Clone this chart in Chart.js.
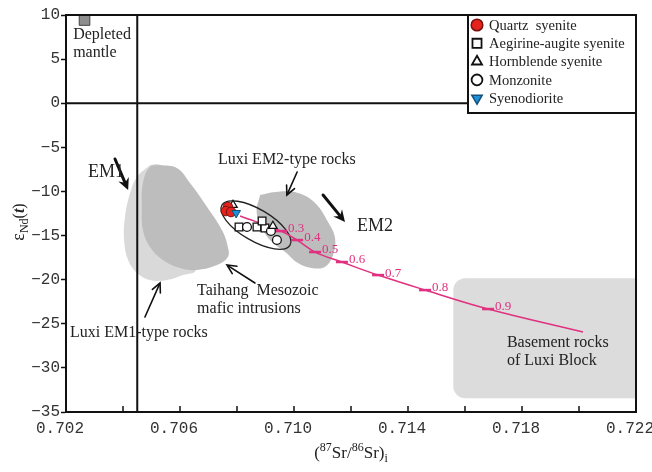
<!DOCTYPE html>
<html lang="en">
<head>
<meta charset="UTF-8">
<script src="https://cdn.jsdelivr.net/npm/chart.js"></script>
<title>Sr-Nd isotope diagram</title>
<style>
  html, body { margin: 0; padding: 0; background: #fff; overflow: hidden; }
  #wrap { width: 652px; height: 472px; position: relative; }
</style>
</head>
<body>
<div id="wrap"><canvas id="srnd"></canvas></div>
<script>
// --- samples: [(87Sr/86Sr)i, eNd(t)] ---
const quartzSyenite   = [[0.70768, -11.76], [0.70761, -12.22], [0.70779, -12.33]];
const aegirineSyenite = [[0.70807, -14.03], [0.70870, -14.03], [0.70898, -14.14], [0.70888, -13.35]];
const hornblendeSyen  = [[0.70786, -11.54], [0.70926, -13.92]];
const monzonite       = [[0.70835, -14.03], [0.70919, -14.48], [0.70940, -15.50]];
const syenodiorite    = [[0.70797, -12.44]];
const depletedMantle  = [[0.70265, 9.43]];

// mixing curve and its fraction marks
const mixCurve  = [[0.70811, -12.79], [0.70954, -14.49], [0.71011, -15.51], [0.71074, -16.87], [0.71168, -18.00],
                   [0.71295, -19.48], [0.71460, -21.18], [0.71681, -23.33], [0.72014, -25.94]];
const mixMarks  = [[0.70954, -14.49], [0.71011, -15.51], [0.71074, -16.87], [0.71168, -18.00],
                   [0.71295, -19.48], [0.71460, -21.18], [0.71681, -23.33]];
const mixLabels = ['0.3', '0.4', '0.5', '0.6', '0.7', '0.8', '0.9'];

// fields (outlines)
const luxiEM1Field = [[0.70495, -7.0], [0.70449, -8.36], [0.70425, -10.18], [0.70407, -12.9], [0.70404, -15.5],
                      [0.70418, -17.77], [0.70449, -19.24], [0.70495, -20.04], [0.70554, -20.04], [0.70611, -19.47],
                      [0.70656, -18.9], [0.70670, -14.37], [0.70600, -9.27], [0.70530, -7.0], [0.70495, -7.0]];
const taihangField = [[0.70530, -7.0], [0.70495, -7.2], [0.70470, -9.04], [0.70466, -11.76], [0.70470, -14.37],
                      [0.70495, -16.3], [0.70540, -17.77], [0.70600, -18.68], [0.70656, -18.9], [0.70730, -18.34],
                      [0.70768, -17.43], [0.70768, -16.3], [0.70747, -14.37], [0.70695, -11.76], [0.70635, -9.04],
                      [0.70589, -7.34], [0.70530, -7.0]];
const luxiEM2Field = [[0.70881, -10.40], [0.70944, -10.03], [0.71014, -10.18], [0.71074, -11.31], [0.71119, -13.43],
                      [0.71144, -15.28], [0.71137, -17.2], [0.71109, -18.53], [0.71062, -18.68], [0.71014, -18.11],
                      [0.70968, -16.83], [0.70922, -15.70], [0.70887, -14.14], [0.70869, -12.30], [0.70881, -10.40]];
const basementBox  = [0.71559, -19.85, 0.722, -33.45];   // x0, yTop, x1, yBottom
const sampleEllipse = [[0.70747, -11.54], [0.70986, -16.08]]; // ends of the long axis

const xTicks = [0.702, 0.706, 0.710, 0.714, 0.718, 0.722];
const em1Line = 0.7045;

const pts = a => a.map(p => ({x: p[0], y: p[1]}));

const SERIF = '"Liberation Serif", "Times New Roman", serif';
const MONO = '"Liberation Mono", monospace';

function arrow(ctx, x1, y1, x2, y2, lw, head, solid) {
    const a = Math.atan2(y2 - y1, x2 - x1);
    ctx.save();
    ctx.strokeStyle = '#111'; ctx.fillStyle = '#111';
    ctx.lineWidth = lw; ctx.lineCap = 'round';
    ctx.beginPath();
    ctx.moveTo(x1, y1);
    ctx.lineTo(x2 - Math.cos(a) * (solid ? head * 0.6 : 1), y2 - Math.sin(a) * (solid ? head * 0.6 : 1));
    ctx.stroke();
    const l = [x2 - head * Math.cos(a - 0.45), y2 - head * Math.sin(a - 0.45)];
    const r = [x2 - head * Math.cos(a + 0.45), y2 - head * Math.sin(a + 0.45)];
    if (solid) {
        const m = [x2 - head * 0.6 * Math.cos(a), y2 - head * 0.6 * Math.sin(a)];
        ctx.beginPath();
        ctx.moveTo(x2, y2); ctx.lineTo(l[0], l[1]); ctx.lineTo(m[0], m[1]); ctx.lineTo(r[0], r[1]);
        ctx.closePath(); ctx.fill();
    } else {
        ctx.beginPath();
        ctx.moveTo(l[0], l[1]); ctx.lineTo(x2, y2); ctx.lineTo(r[0], r[1]);
        ctx.stroke();
    }
    ctx.restore();
}

const decorPlugin = {
    id: 'decor',
    beforeDatasetsDraw(chart) {
        const {ctx, scales: {x, y}} = chart;
        // basement block
        const bx0 = x.getPixelForValue(basementBox[0]), by0 = y.getPixelForValue(basementBox[1]);
        const bx1 = x.getPixelForValue(basementBox[2]), by1 = y.getPixelForValue(basementBox[3]);
        ctx.save();
        ctx.fillStyle = '#dcdcdc';
        ctx.beginPath();
        ctx.roundRect(bx0, by0, bx1 - bx0, by1 - by0, [12, 0, 0, 12]);
        ctx.fill();
        ctx.restore();
    },
    beforeDatasetDraw(chart, args) {
        if (chart.data.datasets[args.index].label !== 'mixing') return;
        const {ctx, scales: {x, y}} = chart;
        const x1 = x.getPixelForValue(sampleEllipse[0][0]), y1 = y.getPixelForValue(sampleEllipse[0][1]);
        const x2 = x.getPixelForValue(sampleEllipse[1][0]), y2 = y.getPixelForValue(sampleEllipse[1][1]);
        const rx = Math.hypot(x2 - x1, y2 - y1) / 2;
        ctx.save();
        ctx.strokeStyle = '#222'; ctx.lineWidth = 1.3;
        ctx.beginPath();
        ctx.ellipse((x1 + x2) / 2, (y1 + y2) / 2, rx, rx * 0.4, Math.atan2(y2 - y1, x2 - x1), 0, Math.PI * 2);
        ctx.stroke();
        ctx.restore();
    },
    afterDatasetsDraw(chart) {
        const {ctx, chartArea: ca, scales: {x, y}} = chart;
        const X = v => x.getPixelForValue(v), Y = v => y.getPixelForValue(v);
        ctx.save();
        // reference lines
        ctx.strokeStyle = '#111'; ctx.lineWidth = 2;
        ctx.beginPath();
        ctx.moveTo(ca.left, Y(0)); ctx.lineTo(ca.right, Y(0));
        ctx.moveTo(X(em1Line), ca.top); ctx.lineTo(X(em1Line), ca.bottom);
        ctx.stroke();

        // mixing fraction labels
        ctx.fillStyle = '#e0307f';
        ctx.font = '13px ' + SERIF;
        ctx.textBaseline = 'middle'; ctx.textAlign = 'left';
        mixMarks.forEach((m, i) => ctx.fillText(mixLabels[i], X(m[0]) + 7, Y(m[1]) - 2));

        // arrows
        arrow(ctx, X(0.70372), Y(-6.32), X(0.70418), Y(-9.84), 3, 13, true);
        arrow(ctx, X(0.71102), Y(-10.40), X(0.71179), Y(-13.46), 3, 13, true);
        arrow(ctx, X(0.71011), Y(-7.80), X(0.70975), Y(-10.40), 1.6, 10, false);
        arrow(ctx, X(0.70863), Y(-20.38), X(0.70765), Y(-18.34), 1.6, 10, false);
        arrow(ctx, X(0.70477), Y(-24.23), X(0.70530), Y(-20.38), 1.6, 10, false);

        // field / end-member labels
        ctx.fillStyle = '#222';
        ctx.font = '16px ' + SERIF;
        const txt = (s, vx, vy) => ctx.fillText(s, X(vx), Y(vy));
        txt('Depleted', 0.70225, 7.73);
        txt('mantle', 0.70225, 5.69);
        txt('Luxi EM2-type rocks', 0.70733, -6.44);
        txt('Taihang  Mesozoic', 0.70660, -21.29);
        txt('mafic intrusions', 0.70660, -23.33);
        txt('Luxi EM1-type rocks', 0.70214, -26.05);
        txt('Basement rocks', 0.71747, -27.18);
        txt('of Luxi Block', 0.71747, -29.22);
        ctx.font = '18px ' + SERIF;
        txt('EM1', 0.70277, -7.80);
        txt('EM2', 0.71221, -13.92);
        ctx.restore();
    },
    afterDraw(chart) {
        const {ctx, chartArea: ca, scales: {x}} = chart;
        ctx.save();
        // inward x ticks
        ctx.strokeStyle = '#111'; ctx.lineWidth = 1.5;
        ctx.beginPath();
        x.ticks.forEach(t => {
            const p = x.getPixelForValue(t.value);
            if (p <= ca.left + 1 || p >= ca.right - 1) return;
            ctx.moveTo(p, ca.bottom); ctx.lineTo(p, ca.bottom - 6);
        });
        ctx.stroke();

        // legend box
        const lw = 168, lh = 98, lx = ca.right - lw, ly = ca.top;
        ctx.fillStyle = '#fff';
        ctx.fillRect(lx, ly, lw, lh);
        ctx.strokeStyle = '#111'; ctx.lineWidth = 2;
        ctx.strokeRect(lx, ly, lw, lh);
        const items = [
            ['Quartz  syenite', 0], ['Aegirine-augite syenite', 1], ['Hornblende syenite', 2],
            ['Monzonite', 3], ['Syenodiorite', 4]
        ];
        ctx.font = '14.5px ' + SERIF;
        ctx.textBaseline = 'middle'; ctx.textAlign = 'left';
        items.forEach(([name, di], i) => {
            const ds = chart.data.datasets[di];
            const cy = ly + 10 + i * 18.3, cx = lx + 9;
            ctx.fillStyle = ds.pointBackgroundColor;
            ctx.strokeStyle = ds.pointBorderColor;
            ctx.lineWidth = ds.pointBorderWidth + 0.5;
            Chart.helpers.drawPoint(ctx, {pointStyle: ds.pointStyle, rotation: ds.pointRotation || 0,
                radius: ds.pointRadius + 1, borderWidth: ds.pointBorderWidth}, cx, cy);
            ctx.fillStyle = '#222';
            ctx.fillText(name, lx + 21, cy + 1);
        });

        // frame
        ctx.strokeStyle = '#111'; ctx.lineWidth = 2;
        ctx.strokeRect(ca.left, ca.top, ca.right - ca.left, ca.bottom - ca.top);

        // axis titles
        ctx.fillStyle = '#222';
        const parts = [['(', 17, 0], ['87', 12, -7], ['Sr/', 17, 0], ['86', 12, -7], ['Sr)', 17, 0], ['i', 12, 4]];
        let w = 0;
        parts.forEach(p => { ctx.font = p[1] + 'px ' + SERIF; w += ctx.measureText(p[0]).width; });
        let cx = (ca.left + ca.right) / 2 - w / 2;
        ctx.textBaseline = 'alphabetic';
        parts.forEach(p => {
            ctx.font = p[1] + 'px ' + SERIF;
            ctx.fillText(p[0], cx, 458 + p[2]);
            cx += ctx.measureText(p[0]).width;
        });

        ctx.translate(24, 222);
        ctx.rotate(-Math.PI / 2);
        const yparts = [['ε', '18px ' + SERIF, 0], ['Nd', '12px ' + SERIF, 4], ['(', '16px ' + SERIF, 0],
                        ['t', 'italic bold 16px ' + SERIF, 0], [')', '16px ' + SERIF, 0]];
        w = 0;
        yparts.forEach(p => { ctx.font = p[1]; w += ctx.measureText(p[0]).width; });
        cx = -w / 2;
        yparts.forEach(p => {
            ctx.font = p[1];
            ctx.fillText(p[0], cx, p[2]);
            cx += ctx.measureText(p[0]).width;
        });
        ctx.restore();
    }
};

const markerBase = {type: 'scatter', showLine: false, pointHoverRadius: 0};

new Chart(document.getElementById('srnd'), {
    type: 'scatter',
    data: {
        datasets: [
            {...markerBase, label: 'Quartz syenite', data: pts(quartzSyenite), pointStyle: 'circle', pointRadius: 4.8,
             pointBackgroundColor: '#e3231c', pointBorderColor: '#7a1010', pointBorderWidth: 1, order: 1},
            {...markerBase, label: 'Aegirine-augite syenite', data: pts(aegirineSyenite), pointStyle: 'rect', pointRadius: 5.4,
             pointBackgroundColor: '#fff', pointBorderColor: '#111', pointBorderWidth: 1.3, order: 3},
            {...markerBase, label: 'Hornblende syenite', data: pts(hornblendeSyen), pointStyle: 'triangle', pointRadius: 4.8,
             pointBackgroundColor: '#fff', pointBorderColor: '#111', pointBorderWidth: 1.3, order: 2},
            {...markerBase, label: 'Monzonite', data: pts(monzonite), pointStyle: 'circle', pointRadius: 4.4,
             pointBackgroundColor: '#fff', pointBorderColor: '#111', pointBorderWidth: 1.3, order: 2},
            {...markerBase, label: 'Syenodiorite', data: pts(syenodiorite), pointStyle: 'triangle', pointRotation: 180,
             pointRadius: 5, pointBackgroundColor: '#1e90d8', pointBorderColor: '#14507a', pointBorderWidth: 1, order: 0},
            {...markerBase, label: 'Depleted mantle', data: pts(depletedMantle), pointStyle: 'rect', pointRadius: 7.5,
             pointBackgroundColor: '#8e8e8e', pointBorderColor: '#444', pointBorderWidth: 1, order: 1},
            {type: 'scatter', label: 'marks', data: pts(mixMarks), pointStyle: 'line', pointRadius: 6,
             pointBorderColor: '#e0307f', pointBorderWidth: 2.5, showLine: false, order: 4},
            {type: 'scatter', label: 'mixing', data: pts(mixCurve), showLine: true, tension: 0.4, pointRadius: 0,
             borderColor: '#e0307f', borderWidth: 1.5, order: 5},
            {type: 'scatter', label: 'EM2 field', data: pts(luxiEM2Field), showLine: true, tension: 0.4, pointRadius: 0,
             borderWidth: 0, borderColor: 'rgba(0,0,0,0)', backgroundColor: '#bdbdbd', fill: 'shape', order: 8},
            {type: 'scatter', label: 'Taihang field', data: pts(taihangField), showLine: true, tension: 0.4, pointRadius: 0,
             borderWidth: 0, borderColor: 'rgba(0,0,0,0)', backgroundColor: '#bdbdbd', fill: 'shape', order: 9},
            {type: 'scatter', label: 'EM1 field', data: pts(luxiEM1Field), showLine: true, tension: 0.4, pointRadius: 0,
             borderWidth: 0, borderColor: 'rgba(0,0,0,0)', backgroundColor: '#d9d9d9', fill: 'shape', order: 10}
        ]
    },
    options: {
        responsive: true,
        maintainAspectRatio: false,
        animation: false,
        devicePixelRatio: 1,
        layout: {autoPadding: false, padding: {top: 15, right: 16, left: 0, bottom: 0}},
        plugins: {legend: {display: false}, tooltip: {enabled: false}},
        scales: {
            x: {
                type: 'linear', min: 0.702, max: 0.722,
                border: {display: true, color: '#111', width: 2},
                grid: {drawOnChartArea: false, drawTicks: false},
                ticks: {
                    stepSize: 0.002, autoSkip: false, maxRotation: 0, padding: 7, labelOffset: -6,
                    color: '#333', font: {family: MONO, size: 16},
                    callback: v => xTicks.some(t => Math.abs(t - v) < 1e-6) ? v.toFixed(3) : ''
                },
                afterFit: s => { s.height = 60; s.paddingLeft = 0; s.paddingRight = 0; }
            },
            y: {
                type: 'linear', min: -35, max: 10,
                border: {display: true, color: '#111', width: 2},
                grid: {drawOnChartArea: false, drawTicks: true, tickLength: 5, tickColor: '#111', tickWidth: 1.5},
                ticks: {
                    stepSize: 5, padding: 1, color: '#333', font: {family: MONO, size: 16},
                    callback: v => v < 0 ? '\u2212' + Math.abs(v) : String(v)
                },
                afterFit: s => { s.width = 66; s.paddingTop = 0; s.paddingBottom = 0; }
            }
        }
    },
    plugins: [decorPlugin]
});
</script>
</body>
</html>
